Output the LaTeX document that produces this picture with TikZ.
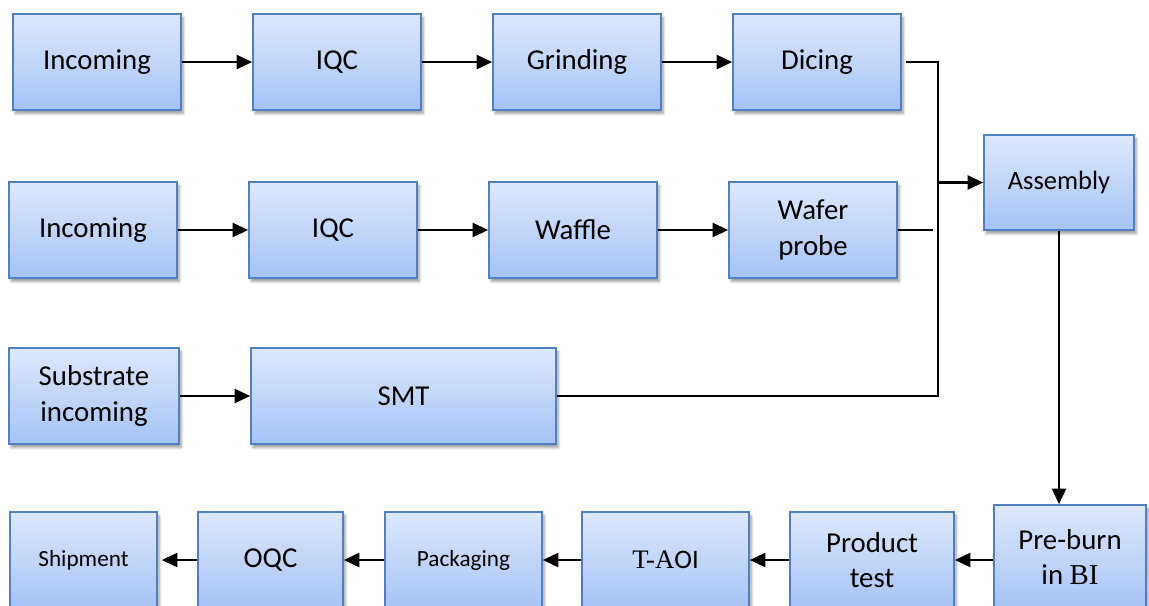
\documentclass[tikz,border=0pt]{standalone}
\usepackage{fontspec}
\setmainfont{Carlito}
\newfontfamily\timesfont{Liberation Serif}
\usetikzlibrary{arrows.meta,shadows.blur}

\definecolor{boxtop}{HTML}{DEE8FB}
\definecolor{boxbot}{HTML}{A5C3F6}
\definecolor{boxline}{HTML}{5080C0}
\newcommand{\pxl}{0.025cm}

\tikzset{
  proc/.style={rectangle,draw=boxline,line width=1.2pt,top color=boxtop,bottom color=boxbot,
    align=center,inner sep=0pt,font=\fontsize{20.5}{25}\selectfont,
    blur shadow={shadow xshift=1.5pt,shadow yshift=-2.5pt,shadow blur steps=6,shadow opacity=40}},
  boxsize/.style 2 args={minimum width=#1*\pxl,minimum height=#2*\pxl},
  smalltext/.style={font=\fontsize{16.5}{20}\selectfont},
  flow/.style={line width=1.5pt,-{Triangle[length=11pt,width=10pt]}},
  wire/.style={line width=1.5pt}
}

\begin{document}
\begin{tikzpicture}[x=\pxl,y=-\pxl]
\useasboundingbox (0,0) rectangle (1149,605);

% die line
\node (inc1) [proc,boxsize={168}{96}] at (97,62) {Incoming};
\node (iqc1) [proc,boxsize={168}{96}] at (337,62) {IQC};
\node (grd) [proc,boxsize={168}{96}] at (577,62) {Grinding};
\node (dic) [proc,boxsize={168}{96}] at (817,62) {Dicing};

% wafer line
\node (inc2) [proc,boxsize={168}{96}] at (93,230) {Incoming};
\node (iqc2) [proc,boxsize={168}{96}] at (333,230) {IQC};
\node (waf) [proc,boxsize={168}{96}] at (573,230) {Waffle};
\node (wprb) [proc,boxsize={168}{96}] at (813,230) {Wafer\\probe};

% substrate line
\node (sub) [proc,boxsize={170}{96}] at (94,396) {Substrate\\incoming};
\node (smt) [proc,boxsize={305}{96}] at (403.5,396) {SMT};

\node (asm) [proc,boxsize={150}{95},font=\fontsize{18.8}{23}\selectfont] at (1059,182.5) {Assembly};

% back end, right to left
\node (pre) [proc,boxsize={152}{104}] at (1070,557) {Pre-burn\\in {\timesfont BI}};
\node (prod) [proc,boxsize={164}{96}] at (872,560) {Product\\test};
\node (taoi) [proc,boxsize={167}{96},font=\fontsize{19}{23}\selectfont] at (665.5,560) {{\timesfont T-A}OI};
\node (pack) [proc,smalltext,boxsize={157}{96}] at (463.5,560) {Packaging};
\node (oqc) [proc,boxsize={145}{96}] at (270.5,560) {OQC};
\node (ship) [proc,smalltext,boxsize={147}{96}] at (83.5,560) {Shipment};

\coordinate (bustop) at (938,62);
\coordinate (busmid) at (938,182.5);
\coordinate (busbot) at (938,396);
\coordinate (wafend) at (933,230);

\draw [flow] (inc1)--(iqc1);
\draw [flow] (iqc1)--(grd);
\draw [flow] (grd)--(dic);
\draw [flow] (inc2)--(iqc2);
\draw [flow] (iqc2)--(waf);
\draw [flow] (waf)--(wprb);
\draw [flow] (sub)--(smt);

\draw [wire] ([xshift=4*\pxl]dic.east)--(bustop)--(busbot)--(smt.east);
\draw [wire] (wprb.east)--(wafend);
\draw [flow] (busmid)--(asm);
\draw [flow] (asm.south)--(asm.south |- pre.north);

\draw [flow] (pre.west |- prod)--(prod);
\draw [flow] (prod)--(taoi);
\draw [flow] (taoi)--(pack);
\draw [flow] (pack)--(oqc);
\draw [flow,shorten >=4*\pxl] (oqc)--(ship);
\end{tikzpicture}
\end{document}
